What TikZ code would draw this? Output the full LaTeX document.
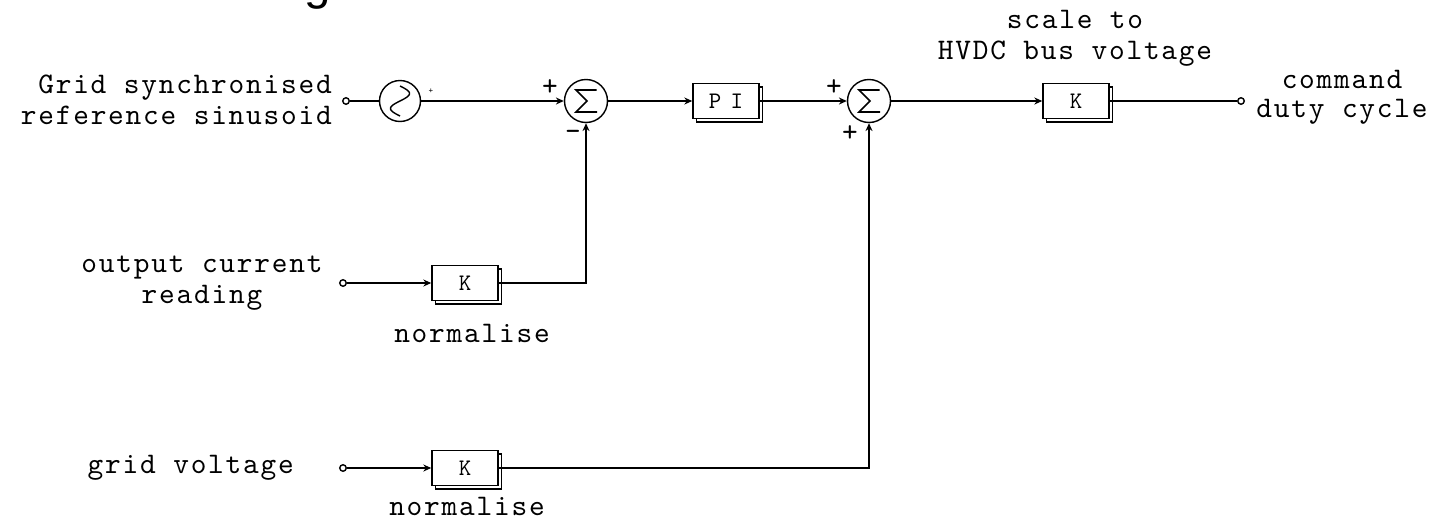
\documentclass[tikz,border=0pt]{standalone}
\usepackage{fontspec}
\newfontfamily\diagfont{lmmono10-regular}[Extension=.otf, LetterSpace=6]
\newfontfamily\gainfont{lmmono10-regular}[Extension=.otf, LetterSpace=40]
\newfontfamily\titlefont{Liberation Sans}
\usetikzlibrary{arrows.meta,shadows,calc}

\begin{document}
\begin{tikzpicture}[x=0.02cm, y=-0.02cm,
	every node/.style={font=\diagfont\fontsize{17pt}{17.6pt}\selectfont},
	wire/.style={line width=1pt},
	sig/.style={line width=1pt, -{Stealth[length=4.5pt, width=4pt]}},
	terminal/.style={draw, circle, line width=0.8pt, minimum size=0.13cm, inner sep=0pt, fill=white},
	gain/.style={draw, fill=white, line width=0.9pt, minimum width=1.32cm, minimum height=0.70cm, inner sep=0pt,
		font=\gainfont\fontsize{13.5pt}{14pt}\selectfont,
		copy shadow={shadow xshift=0.07cm, shadow yshift=-0.07cm, draw, fill=white, line width=0.9pt}},
	summer/.style={draw, circle, line width=0.8pt, minimum size=0.86cm, inner sep=0pt,
		path picture={\draw[line width=0.9pt, shift={(path picture bounding box.center)}, x=1cm, y=1cm]
			(0.21,0.22) -- (-0.2,0.22) -- (0.02,0) -- (-0.2,-0.22) -- (0.22,-0.22);}},
	source/.style={draw, circle, line width=0.8pt, minimum size=0.82cm, inner sep=0pt,
		path picture={\draw[line width=0.8pt, shift={(path picture bounding box.center)}, x=1cm, y=1cm]
			plot[domain=-0.3:0.3, samples=40, smooth] ({0.19*sin(600*(0.3-\x))}, \x);}},
	sign/.style={inner sep=0pt}
	]

	\def\rowA{101} \def\rowB{283} \def\rowC{468}

	% page
	\fill[white] (0,0) rectangle (1439,521);
	\useasboundingbox (0,0) rectangle (1439,521);

	% cut off title above the picture
	\node[font=\titlefont\fontsize{27pt}{30pt}\selectfont, anchor=base] (title) at (318,-1) {g};

	% blocks on the main path
	\node[terminal] (tin) at (346,\rowA) {};
	\node[source] (src) at (400,\rowA) {};
	\node[summer] (sumA) at (586,\rowA) {};
	\node[gain] (pi) at (726,\rowA) {PI};
	\node[summer] (sumB) at (869,\rowA) {};
	\node[gain] (kout) at (1076,\rowA) {K};
	\node[terminal] (tout) at (1241,\rowA) {};

	% feedback rows
	\node[terminal] (tcur) at (343,\rowB) {};
	\node[gain] (kcur) at (465,\rowB) {K};
	\node[terminal] (tvolt) at (343,\rowC) {};
	\node[gain] (kvolt) at (465,\rowC) {K};

	% connections
	\draw[wire] (tin) -- (src);
	\draw[sig] (src) -- (sumA);
	\draw[sig] (sumA) -- (pi);
	\draw[sig] (pi) -- (sumB);
	\draw[sig] (sumB) -- (kout);
	\draw[wire] (kout) -- (tout);
	\draw[sig] (tcur) -- (kcur);
	\draw[sig] (kcur) -| (sumA);
	\draw[sig] (tvolt) -- (kvolt);
	\draw[sig] (kvolt) -| (sumB);

	% signs at the summing points
	\node[sign] (pA) at (550,88) {+};
	\node[sign] (mA) at (573,135) {-};
	\node[sign] (pB) at (834,88) {+};
	\node[sign] (pC) at (850,134) {+};
	\node[sign, font=\diagfont\fontsize{5pt}{6pt}\selectfont] (psrc) at (431,91) {+};

	% labels
	\node[align=right, anchor=east] (lgrid) at (338,100) {Grid synchronised\\reference sinusoid};
	\node[align=center] (lcur) at (202,283) {output current\\reading};
	\node[anchor=east] (lvolt) at (300,\rowC) {grid voltage};
	\node (ncur) at (472,333) {normalise};
	\node (nvolt) at (467,506) {normalise};
	\node[align=center] (lscale) at (1075,38) {scale to\\HVDC bus voltage};
	\node[align=center, font=\diagfont\fontsize{17pt}{16.5pt}\selectfont] (lcmd) at (1342,97) {command\\duty cycle};

\end{tikzpicture}
\end{document}
